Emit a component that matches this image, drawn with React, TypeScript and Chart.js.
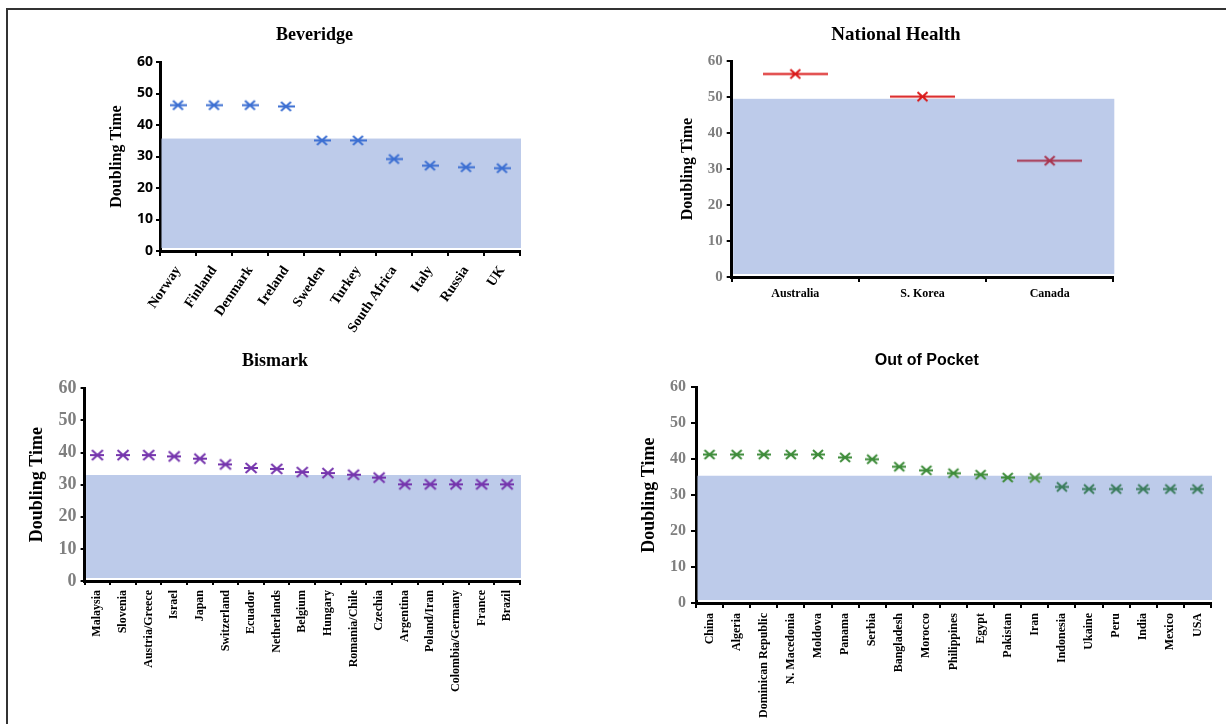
import React, { useEffect, useRef } from 'react';
import { Chart, registerables } from 'chart.js';

Chart.register(...registerables);

// ---------- DATA ----------
const beveridgeCountries = ['Norway', 'Finland', 'Denmark', 'Ireland', 'Sweden', 'Turkey', 'South Africa', 'Italy', 'Russia', 'UK'];
const beveridgeDoubling = [46.3, 46.3, 46.3, 45.9, 35.1, 35.1, 29.2, 27.1, 26.6, 26.3];
const beveridgeShade = 35.7;

const nationalCountries = ['Australia', 'S. Korea', 'Canada'];
const nationalDoubling = [56.4, 50.1, 32.3];
const nationalShade = 49.5;

const bismarkCountries = ['Malaysia', 'Slovenia', 'Austria/Greece', 'Israel', 'Japan', 'Switzerland', 'Ecuador', 'Netherlands', 'Belgium', 'Hungary', 'Romania/Chile', 'Czechia', 'Argentina', 'Poland/Iran', 'Colombia/Germany', 'France', 'Brazil'];
const bismarkDoubling = [39.2, 39.2, 39.2, 38.8, 38.1, 36.3, 35.2, 34.9, 33.9, 33.6, 33.1, 32.2, 30.1, 30.1, 30.1, 30.1, 30.1];
const bismarkShade = 33.0;

const pocketCountries = ['China', 'Algeria', 'Dominican Republic', 'N. Macedonia', 'Moldova', 'Panama', 'Serbia', 'Bangladesh', 'Morocco', 'Philippines', 'Egypt', 'Pakistan', 'Iran', 'Indonesia', 'Ukaine', 'Peru', 'India', 'Mexico', 'USA'];
const pocketDoubling = [41.3, 41.3, 41.3, 41.3, 41.3, 40.5, 40.0, 37.9, 36.9, 36.1, 35.7, 34.9, 34.8, 32.3, 31.7, 31.7, 31.7, 31.7, 31.7];
const pocketShade = 35.4;

const yTickValues = [0, 10, 20, 30, 40, 50, 60];
const yAxisTitle = 'Doubling Time';

// ---------- STYLE ----------
const SERIF = "'Liberation Serif', 'Times New Roman', serif";
const SANS = "'Liberation Sans', Arial, sans-serif";
const OPEN = "'Open Sans', 'Liberation Sans', sans-serif";
const SHADE_COLOR = '#BDCBEA';
const GREY = '#7F7F7F';

function makeMarker(color: string, w: number, xw: number, xh: number, lw: number): HTMLCanvasElement {
  const c = document.createElement('canvas');
  const h = Math.ceil(xh + lw + 2);
  c.width = w;
  c.height = h;
  const ctx = c.getContext('2d')!;
  ctx.strokeStyle = color;
  ctx.lineWidth = lw;
  const cx = w / 2;
  const cy = h / 2;
  ctx.beginPath();
  ctx.moveTo(0, cy);
  ctx.lineTo(w, cy);
  ctx.moveTo(cx - xw / 2, cy - xh / 2);
  ctx.lineTo(cx + xw / 2, cy + xh / 2);
  ctx.moveTo(cx - xw / 2, cy + xh / 2);
  ctx.lineTo(cx + xw / 2, cy - xh / 2);
  ctx.stroke();
  return c;
}

const shadePlugin = {
  id: 'shade',
  beforeDatasetsDraw(chart: any, _a: any, opts: any) {
    const { ctx, chartArea } = chart;
    const y = chart.scales.y;
    const top = y.getPixelForValue(opts.value);
    const bottom = y.getPixelForValue(0) - 3;
    ctx.save();
    ctx.fillStyle = opts.color;
    ctx.fillRect(chartArea.left + 1.5, top, chartArea.right - chartArea.left - 0.5, bottom - top);
    ctx.restore();
  },
};

const panelTitlePlugin = {
  id: 'panelTitle',
  afterDraw(chart: any, _a: any, opts: any) {
    if (!opts || !opts.text) return;
    const ctx = chart.ctx;
    ctx.save();
    ctx.font = `bold ${opts.size}px ${opts.family}`;
    ctx.fillStyle = '#000';
    ctx.textAlign = 'center';
    ctx.textBaseline = 'middle';
    ctx.fillText(opts.text, opts.x, opts.y);
    ctx.restore();
  },
};

interface PanelSpec {
  title: string;
  titleFamily: string;
  titleSize: number;
  titleCX: number;
  titleCY: number;
  L: number; T: number; R: number; B: number;
  yTitleCX: number;
  yTitleSize: number;
  yTickFamily: string;
  yTickSize: number;
  yTickColor: string;
  yTickLen: number;
  yTickPad: number;
  xSize: number;
  xRotation: number;
  xTickLen: number;
  xTickPad: number;
  XH: number;
  labels: string[];
  values: number[];
  shade: number;
  markers: () => HTMLCanvasElement | HTMLCanvasElement[];
}

const panels: PanelSpec[] = [
  {
    title: 'Beveridge', titleFamily: SERIF, titleSize: 18, titleCX: 314.5, titleCY: 35,
    L: 160, T: 62, R: 520, B: 251,
    yTitleCX: 116.5, yTitleSize: 16,
    yTickFamily: OPEN, yTickSize: 14, yTickColor: '#000', yTickLen: 4, yTickPad: 3,
    xSize: 14, xRotation: 56, xTickLen: 5, xTickPad: 7, XH: 85,
    labels: beveridgeCountries, values: beveridgeDoubling, shade: beveridgeShade,
    markers: () => makeMarker('#3C6FD2', 17, 10, 9, 2),
  },
  {
    title: 'National Health', titleFamily: SERIF, titleSize: 19, titleCX: 896, titleCY: 35,
    L: 731.7, T: 61, R: 1113.3, B: 277,
    yTitleCX: 688.3, yTitleSize: 16,
    yTickFamily: SERIF, yTickSize: 15, yTickColor: GREY, yTickLen: 5, yTickPad: 4,
    xSize: 12, xRotation: 0, xTickLen: 5, xTickPad: 5, XH: 30,
    labels: nationalCountries, values: nationalDoubling, shade: nationalShade,
    markers: () => ['#D91A1A', '#D91A1A', '#A8354F'].map((c) => makeMarker(c, 65, 10, 9, 2)),
  },
  {
    title: 'Bismark', titleFamily: SERIF, titleSize: 18, titleCX: 275, titleCY: 361.7,
    L: 84.6, T: 388.3, R: 520, B: 581,
    yTitleCX: 37.3, yTitleSize: 18,
    yTickFamily: SERIF, yTickSize: 18, yTickColor: GREY, yTickLen: 4, yTickPad: 4,
    xSize: 12, xRotation: 90, xTickLen: 4, xTickPad: 5, XH: 125,
    labels: bismarkCountries, values: bismarkDoubling, shade: bismarkShade,
    markers: () => makeMarker('#7535AD', 14, 11, 10, 2),
  },
  {
    title: 'Out of Pocket', titleFamily: SANS, titleSize: 16, titleCX: 926.7, titleCY: 361,
    L: 696, T: 387.3, R: 1211, B: 603,
    yTitleCX: 649.3, yTitleSize: 18,
    yTickFamily: SERIF, yTickSize: 16, yTickColor: GREY, yTickLen: 5, yTickPad: 5,
    xSize: 12, xRotation: 90, xTickLen: 5, xTickPad: 5, XH: 115,
    labels: pocketCountries, values: pocketDoubling, shade: pocketShade,
    markers: () =>
      pocketCountries.map((_, i) => makeMarker(i < 12 ? '#3E8C3A' : i === 12 ? '#4F9448' : '#3C7D5E', 14, 10, 9, 2)),
  },
];

function geometry(s: PanelSpec) {
  const top = Math.round(s.titleCY - s.titleSize);
  const lhY = s.yTitleSize * 1.2;
  const left = Math.floor(s.yTitleCX - lhY / 2);
  const yTitlePad = s.yTitleCX - lhY / 2 - left;
  const right = Math.ceil(s.R + 20);
  const width = right - left;
  const padRight = right - s.R;
  const height = Math.round(s.B + s.XH + 4 - top);
  const padBottom = top + height - s.XH - s.B;
  const padTop = s.T - top;
  const YW = s.L - left;
  return { top, left, width, height, padRight, padBottom, padTop, YW, yTitlePad };
}

function Panel({ spec }: { spec: PanelSpec }) {
  const ref = useRef<HTMLCanvasElement>(null);
  const g = geometry(spec);
  useEffect(() => {
    if (!ref.current) return;
    const chart = new Chart(ref.current, {
      type: 'line',
      data: {
        labels: spec.labels,
        datasets: [
          {
            data: spec.values,
            showLine: false,
            pointStyle: spec.markers() as any,
            pointRadius: 6,
            pointHoverRadius: 6,
            borderColor: 'transparent',
            backgroundColor: 'transparent',
            clip: false as any,
          },
        ],
      },
      options: {
        responsive: false,
        maintainAspectRatio: false,
        animation: false,
        events: [],
        layout: { padding: { left: 0, top: g.padTop, right: g.padRight, bottom: g.padBottom } },
        plugins: {
          legend: { display: false },
          tooltip: { enabled: false },
          title: { display: false },
          shade: { value: spec.shade, color: SHADE_COLOR },
          panelTitle: {
            text: spec.title,
            family: spec.titleFamily,
            size: spec.titleSize,
            x: spec.titleCX - g.left,
            y: spec.titleCY - g.top,
          },
        } as any,
        scales: {
          x: {
            type: 'category',
            offset: true,
            grid: {
              offset: true,
              drawOnChartArea: false,
              drawTicks: true,
              tickLength: spec.xTickLen,
              color: '#000',
              tickColor: '#000',
              lineWidth: 2,
            },
            border: { display: true, color: '#000', width: 3 },
            ticks: {
              autoSkip: false,
              minRotation: spec.xRotation,
              maxRotation: spec.xRotation,
              padding: spec.xTickPad,
              color: '#000',
              font: { family: SERIF, size: spec.xSize, weight: 'bold' },
            },
            afterFit: (scale: any) => {
              scale.height = spec.XH;
            },
          },
          y: {
            type: 'linear',
            min: yTickValues[0],
            max: yTickValues[yTickValues.length - 1],
            afterBuildTicks: (scale: any) => {
              scale.ticks = yTickValues.map((v) => ({ value: v }));
            },
            grid: {
              drawOnChartArea: false,
              drawTicks: true,
              tickLength: spec.yTickLen,
              color: '#000',
              tickColor: '#000',
              lineWidth: 2,
            },
            border: { display: true, color: '#000', width: 3 },
            ticks: {
              padding: spec.yTickPad,
              color: spec.yTickColor,
              font: { family: spec.yTickFamily, size: spec.yTickSize, weight: 'bold' },
            },
            title: {
              display: true,
              text: yAxisTitle,
              color: '#000',
              font: { family: SERIF, size: spec.yTitleSize, weight: 'bold' },
              padding: { top: g.yTitlePad, bottom: 0 },
            },
            afterFit: (scale: any) => {
              scale.width = g.YW;
            },
          },
        },
      } as any,
      plugins: [shadePlugin, panelTitlePlugin] as any,
    });
    return () => chart.destroy();
  }, []);
  return (
    <canvas
      ref={ref}
      width={g.width}
      height={g.height}
      style={{ position: 'absolute', left: g.left, top: g.top, width: g.width, height: g.height }}
    />
  );
}

export default function App() {
  return (
    <div
      style={{
        position: 'fixed',
        left: 0,
        top: 0,
        width: 1226,
        height: 724,
        background: '#fff',
        overflow: 'hidden',
      }}
    >
      <div
        style={{
          position: 'absolute',
          left: 6,
          top: 8,
          width: 1300,
          height: 800,
          borderLeft: '2px solid #333',
          borderTop: '2px solid #333',
        }}
      />
      {panels.map((p) => (
        <Panel key={p.title} spec={p} />
      ))}
    </div>
  );
}
